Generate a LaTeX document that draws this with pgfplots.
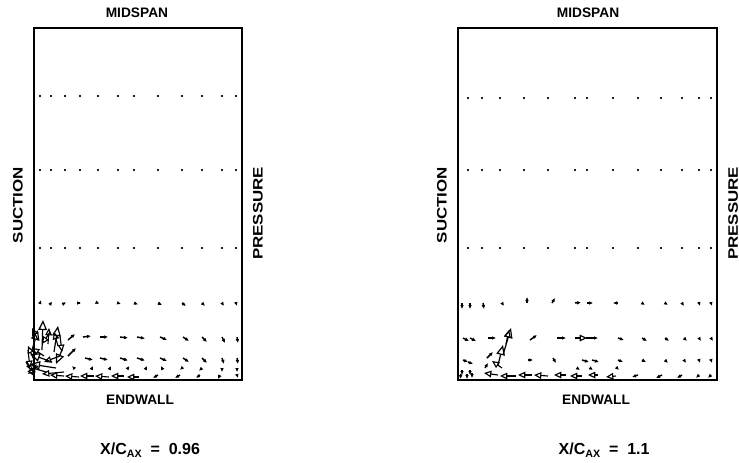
\documentclass[border=0pt]{standalone}
\usepackage{fontspec}
\setmainfont{Liberation Sans}
\usepackage{pgfplots}
\pgfplotsset{compat=1.18}
\usetikzlibrary{arrows.meta}

% 1 px of the reference = 0.75pt
\pgfplotsset{
  panel/.style={
    scale only axis, clip=false, anchor=south west,
    axis line style={line width=1.3pt},
    ticks=none, xmin=0, ymin=0, ymax=352, height=264pt,
  },
  small vec/.style={quiver={u=\thisrow{u},v=\thisrow{v}}, black, line width=1.1pt,
    -{Latex[length=3pt,width=2.8pt]}},
  big vec/.style={quiver={u=\thisrow{u},v=\thisrow{v}}, black, line width=0.85pt,
    -{Triangle[open,length=5.5pt,width=5pt]}},
  huge vec/.style={quiver={u=\thisrow{u},v=\thisrow{v}}, black, line width=0.9pt,
    -{Triangle[open,length=7.5pt,width=6.5pt]}},
  grid dots/.style={only marks, mark=*, mark size=0.6pt, black},
}
\tikzset{
  boxlab/.style={font=\bfseries\fontsize{10.3}{12}\selectfont},
  sidelab/.style={font=\bfseries\fontsize{10.3}{12}\selectfont, rotate=90, xscale=1.23},
  xclab/.style={font=\bfseries\fontsize{12}{14}\selectfont},
}

\begin{document}
\begin{tikzpicture}
\useasboundingbox (0,0) rectangle (554.25pt,346.5pt);

% ---------------- X/C = 0.96 ----------------
\begin{axis}[panel, at={(25.5pt,61.5pt)}, width=156pt, xmax=208]
\addplot[grid dots] table {
x y
6 284
17 284
31 284
46 284
64 284
84 284
100 284
124 284
148 284
168 284
188 284
202 284
6 210
17 210
31 210
46 210
64 210
84 210
100 210
124 210
148 210
168 210
188 210
202 210
6 132
17 132
31 132
46 132
64 132
84 132
100 132
124 132
148 132
168 132
188 132
202 132
};
\addplot[small vec] table {
x y u v
6 77 1 3
17 77 1 1.5
31 77 1 0.5
46 77 1 0
64 77 1.5 -0.5
84 77 3 -1
100 77 4 -1.5
124 77 4 -2
148 77 4 -3
168 77 3 -3
188 77 2 -3
202 77 1 -3
34 40 7 6
49 43 8 1
66 43 8 0
86 43 8 -1
103 43 8 -1.5
126 43 7 -3
149 43 6 -4
168 43 5 -5
188 43 3 -6
203 43 1 -6
34 24 8 8
51 22 8 -2
66 22 8 -2
86 22 8 -2.5
103 22 8 -2.5
126 22 7 -3
149 22 6 -4
168 22 5 -5
188 22 2 -6
203 22 1 -6
40 12 -2 2
58 12 1 2
76 12 1 2
94 12 1.5 2
112 12 1 2
128 12 -1 2
148 12 -2 -2
168 12 -3 -3
188 12 0 -4
203 12 0 -4
124 5 -5 -3
146 5 -5 -3
166 5 -4 -3
186 5 -2 -4
203 5 1 -3
};
\addplot[big vec] table {
x y u v
30 4 -14 1
45 3 -14 1
60 4 -14 0
75 3 -14 1
90 4 -13 0
105 3 -12 0
14 36 1 16
24 34 -4 14
4 40 -6 12
0 20 -6 14
10 24 -12 8
26 24 -16 -6
30 8 -22 -2
-6 30 2 -18
-8 18 8 -14
4 14 -10 -8
16 48 -8 -12
26 44 2 -16
};
\addplot[huge vec] table {
x y u v
8 30 1 30
20 28 4 26
-2 30 6 20
18 18 -22 8
22 12 -26 4
12 8 -20 6
28 30 -6 -14
};
\node[boxlab] at (axis description cs:0.495,1.043) {MIDSPAN};
\node[boxlab] at (axis description cs:0.51,-0.057) {ENDWALL};
\node[sidelab] at (axis description cs:-0.077,0.497) {SUCTION};
\node[sidelab] at (axis description cs:1.077,0.473) {PRESSURE};
\node[xclab] at (axis description cs:0.558,-0.199)
  {X/C\raisebox{-0.4ex}{\fontsize{8}{8}\selectfont AX}\ \ =\ \ 0.96};
\end{axis}

% ---------------- X/C = 1.1 ----------------
\begin{axis}[panel, at={(343.5pt,61.5pt)}, width=194.25pt, xmax=259]
\addplot[grid dots] table {
x y
10 282
24 282
42 282
66 282
90 282
117 282
129 282
155 282
180 282
203 282
224 282
241 282
253 282
10 210
24 210
42 210
66 210
90 210
117 210
129 210
155 210
180 210
203 210
224 210
241 210
253 210
10 132
24 132
42 132
66 132
90 132
117 132
129 132
155 132
180 132
203 132
224 132
241 132
253 132
};
\addplot[small vec] table {
x y u v
4 77 0 -6
12 77 0 -6
25 77 1 -6
44 77 2 -3
69 77 0 6
94 77 3 5
117 77 6 0.5
129 77 6 0
159 77 -4 0
184 77 3 -2
207 77 3 -2
224 77 2 -3
241 77 1 -3
253 77 1 -3
5 42 6 -3
12 42 6 -3
30 42 8 0
72 40 7 5
99 42 9 0
128 42 12 0
160 42 6 -2
184 42 5 -3
207 42 4 -3
226 42 3 -3
241 42 2 -3
253 42 2 -3
5 20 5 -2
10 18 5 -2
29 22 6 6
70 20 5 0
95 22 3 -5
124 20 7 -2
134 20 7 -2
160 20 5 -2
184 20 4 -2
207 20 3 -3
226 20 2 -3
241 20 1 -3
253 20 1 -3
4 10 0 -5
12 10 0 -5
27 12 3 5
119 12 3 -2
132 12 3 -2
159 12 2 -2
180 5 -6 -2
204 5 -6 -3
224 5 -5 -3
241 5 -3 -3
253 5 -3 -3
3 6 -1 -5
9 6 0 -5
14 7 0 -5
};
\addplot[big vec] table {
x y u v
117 42 12 0
48 36 3 14
44 12 -10 7
40 5 -14 2
58 4 -16 0
74 5 -14 0
90 4 -14 1
108 5 -12 0
124 4 -12 0
140 5 -10 0
158 4 -10 -1
};
\addplot[huge vec] table {
x y u v
40 15 5 20
45 25 8 27
};
\node[boxlab] at (axis description cs:0.502,1.043) {MIDSPAN};
\node[boxlab] at (axis description cs:0.533,-0.057) {ENDWALL};
\node[sidelab] at (axis description cs:-0.062,0.497) {SUCTION};
\node[sidelab] at (axis description cs:1.062,0.473) {PRESSURE};
\node[xclab] at (axis description cs:0.564,-0.199)
  {X/C\raisebox{-0.4ex}{\fontsize{8}{8}\selectfont AX}\ \ =\ \ 1.1};
\end{axis}
\end{tikzpicture}
\end{document}
